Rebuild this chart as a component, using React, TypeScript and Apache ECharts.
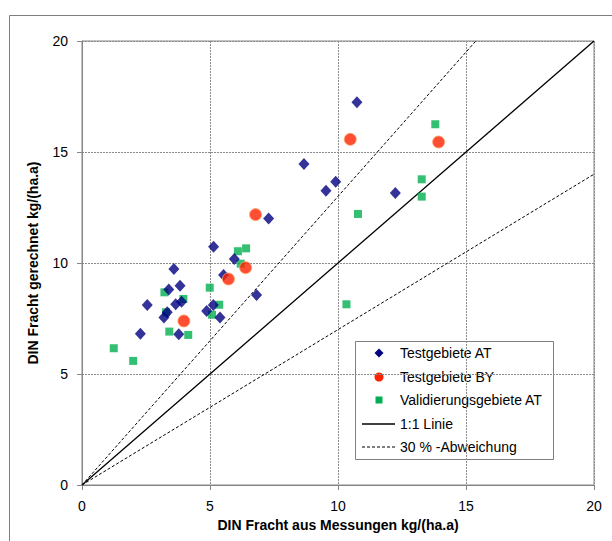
import React, { useEffect, useRef } from "react";
import * as echarts from "echarts";

const axisMin = 0;
const axisMax = 20;
const axisStep = 5;

const xTitle = "DIN Fracht aus Messungen kg/(ha.a)";
const yTitle = "DIN Fracht gerechnet kg/(ha.a)";

const testAT: number[][] = [
  [10.74, 17.24], [8.67, 14.46], [9.91, 13.66], [9.53, 13.26], [12.24, 13.15],
  [7.29, 12.0], [5.14, 10.73], [5.95, 10.18], [5.53, 9.46], [3.59, 9.73],
  [3.39, 8.81], [3.83, 8.98], [2.55, 8.11], [3.66, 8.14], [3.89, 8.26],
  [3.33, 7.78], [3.2, 7.54], [2.28, 6.81], [3.78, 6.79], [4.87, 7.84],
  [5.13, 8.11], [5.39, 7.54], [6.82, 8.56],
];

const testBY: number[][] = [
  [10.48, 15.57], [13.93, 15.45], [6.78, 12.18], [6.39, 9.79], [5.72, 9.28], [3.98, 7.39],
];

const validAT: number[][] = [
  [13.8, 16.25], [13.27, 13.77], [13.27, 12.99], [10.78, 12.21], [10.33, 8.14],
  [6.09, 10.53], [6.41, 10.66], [6.2, 9.97], [4.99, 8.89], [5.36, 8.12],
  [5.08, 7.67], [3.96, 8.38], [3.22, 8.68], [3.28, 7.78], [3.41, 6.91],
  [4.15, 6.76], [1.24, 6.16], [2.0, 5.59],
];

const line11: number[][] = [[0, 0], [20, 20]];
const devUpper: number[][] = [[0, 0], [20 / 1.3, 20]];
const devLower: number[][] = [[0, 0], [20, 14]];

const legendLabels = [
  "Testgebiete AT",
  "Testgebiete BY",
  "Validierungsgebiete AT",
  "1:1 Linie",
  "30 % -Abweichung",
];

const FONT = "'Liberation Sans', Arial, sans-serif";
const BLUE = "#000080";
const RED = "#ff2200";
const GREEN = "#00b050";
const AXIS = "#868686";

export default function App() {
  const ref = useRef<HTMLDivElement>(null);
  useEffect(() => {
    if (!ref.current) return;
    const chart = echarts.init(ref.current, undefined, { renderer: "svg" });

    const lx = 379;
    const tx = 400;
    const rows = [353, 377, 400, 424, 447];

    const axisCommon = {
      type: "value" as const,
      min: axisMin,
      max: axisMax,
      interval: axisStep,
      nameLocation: "middle" as const,
      nameTextStyle: { fontFamily: FONT, fontSize: 14, fontWeight: "bold", color: "#000" },
      axisLine: { show: true, lineStyle: { color: AXIS, width: 1 } },
      axisTick: { show: true, inside: false, length: 5, lineStyle: { color: AXIS } },
      axisLabel: { fontFamily: FONT, fontSize: 14, color: "#000", margin: 14 },
      splitLine: { show: true, lineStyle: { color: "#8c8c8c", type: [2, 1] as any, width: 1 } },
    };

    chart.setOption({
      animation: false,
      backgroundColor: "#fff",
      grid: {
        left: 82,
        top: 41,
        width: 512,
        height: 444,
        show: true,
        borderColor: AXIS,
        borderWidth: 1,
        backgroundColor: "transparent",
      },
      xAxis: { ...axisCommon, name: xTitle, nameGap: 31 },
      yAxis: { ...axisCommon, name: yTitle, nameGap: 42 },
      series: [
        {
          type: "line",
          data: line11,
          symbol: "none",
          lineStyle: { color: "#000", width: 1.3 },
          z: 1,
        },
        {
          type: "line",
          data: devUpper,
          symbol: "none",
          lineStyle: { color: "#000", width: 1, type: [3, 2] },
          z: 1,
        },
        {
          type: "line",
          data: devLower,
          symbol: "none",
          lineStyle: { color: "#000", width: 1, type: [3, 2] },
          z: 1,
        },
        {
          type: "scatter",
          data: validAT,
          symbol: "rect",
          symbolSize: 8,
          itemStyle: { color: GREEN },
          z: 3,
        },
        {
          type: "scatter",
          data: testAT,
          symbol: "diamond",
          symbolSize: [11, 12],
          itemStyle: { color: BLUE },
          z: 4,
        },
        {
          type: "scatter",
          data: testBY,
          symbol: "circle",
          symbolSize: 12,
          itemStyle: { color: RED, borderColor: "#ffa060", borderWidth: 1 },
          z: 5,
        },
      ],
      graphic: [
        {
          type: "rect",
          shape: { x: 9.5, y: 15.5, width: 700, height: 700 },
          style: { fill: "none", stroke: "#7f7f7f", lineWidth: 1 },
          z: 0,
          silent: true,
        },
        {
          type: "group",
          z: 100,
          children: [
            {
              type: "rect",
              shape: { x: 355.5, y: 341.5, width: 198, height: 118 },
              style: { fill: "#fff", stroke: "#7f7f7f", lineWidth: 1 },
            },
            {
              type: "polygon",
              shape: { points: [[lx, rows[0] - 4.5], [lx + 4.5, rows[0]], [lx, rows[0] + 4.5], [lx - 4.5, rows[0]]] },
              style: { fill: BLUE },
            },
            {
              type: "circle",
              shape: { cx: lx, cy: rows[1], r: 4.5 },
              style: { fill: RED },
            },
            {
              type: "rect",
              shape: { x: lx - 3.5, y: rows[2] - 3.5, width: 7, height: 7 },
              style: { fill: GREEN },
            },
            {
              type: "line",
              shape: { x1: 362, y1: rows[3], x2: 395, y2: rows[3] },
              style: { stroke: "#000", lineWidth: 1.3 },
            },
            {
              type: "line",
              shape: { x1: 362, y1: rows[4], x2: 395, y2: rows[4] },
              style: { stroke: "#000", lineWidth: 1, lineDash: [3, 2] },
            },
            ...legendLabels.map((t, i) => ({
              type: "text",
              x: tx,
              y: rows[i],
              style: {
                text: t,
                fontFamily: FONT,
                fontSize: 14,
                fill: "#000",
                verticalAlign: "middle",
                align: "left",
              },
            })),
          ],
        },
      ],
    });
    return () => chart.dispose();
  }, []);
  return (
    <div
      ref={ref}
      style={{ position: "fixed", left: 0, top: 0, width: 612, height: 541 }}
    />
  );
}
